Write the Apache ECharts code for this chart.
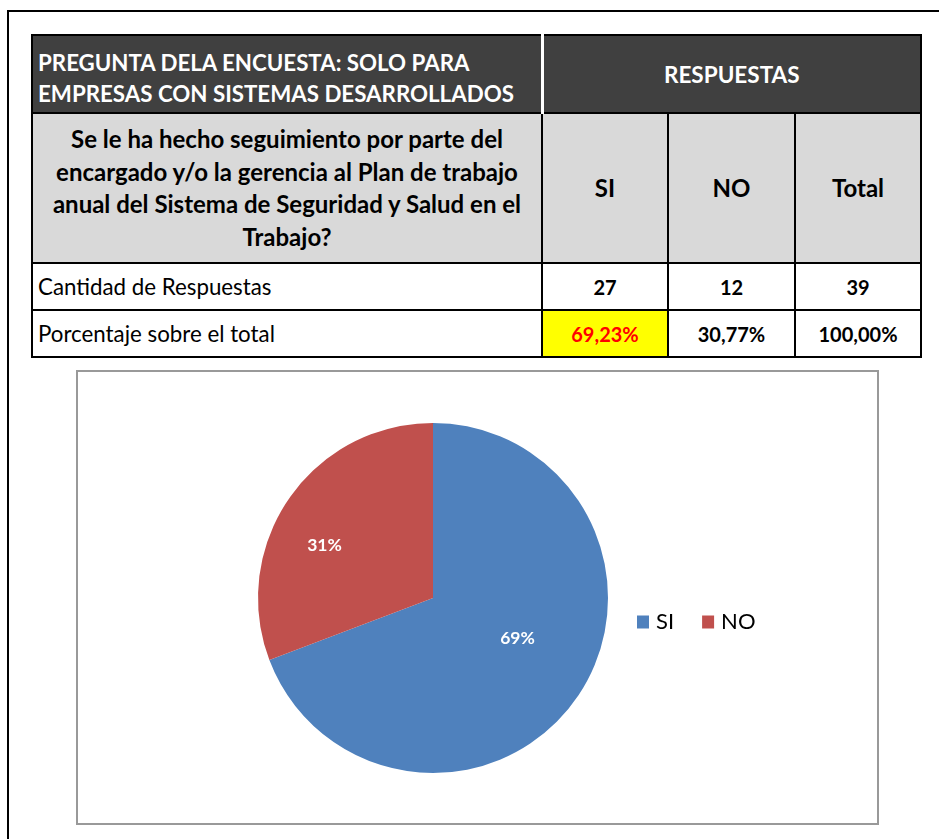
<!DOCTYPE html>
<html>
<head>
<meta charset="utf-8">
<script src="https://cdn.jsdelivr.net/npm/echarts@6/dist/echarts.min.js"></script>
<style>
  html, body { margin: 0; padding: 0; background: #fff; }
  body { width: 939px; height: 839px; position: relative; overflow: hidden; font-family: Lato, "Noto Sans", sans-serif; }
  #frame { position: absolute; left: 7px; top: 10px; width: 940px; height: 840px; border-left: 2px solid #000; border-top: 2px solid #000; }
  table { position: absolute; left: 31px; top: 34px; border-collapse: collapse; table-layout: fixed; }
  td { border: 2px solid #000; padding: 0; color: #000; }
  .head td { background: #404040; color: #fff; font-weight: bold; font-size: 22.3px; height: 76px; }
  .head td.q { text-align: left; padding-left: 5px; line-height: 31px; padding-top: 7px; height: 69px; }
  .head td.r { text-align: center; border-left: 3px solid #fff; font-size: 22.5px; }
  .sub td { background: #d9d9d9; font-weight: bold; font-size: 24px; text-align: center; height: 148px; line-height: 32.5px; }
  .sub td.q { font-size: 24px; }
  .row td { height: 45px; font-size: 20px; font-weight: bold; text-align: center; }
  .row td.lbl { text-align: left; padding-left: 5px; font-weight: normal; font-size: 22.3px; }
  .row td.hl { background: #ffff00; color: #ff0000; }
  #chart { position: absolute; left: 76px; top: 370px; width: 803px; height: 455px; border: 2px solid #999; box-sizing: border-box; }
</style>
</head>
<body>
<div id="frame"></div>
<table id="tbl">
  <colgroup><col style="width:510px"><col style="width:126px"><col style="width:127px"><col style="width:126px"></colgroup>
</table>
<div id="chart"></div>
<script>
var headerQuestion = ['PREGUNTA DELA ENCUESTA: SOLO PARA', 'EMPRESAS CON SISTEMAS DESARROLLADOS'];
var headerAnswers = 'RESPUESTAS';
var questionLines = ['Se le ha hecho seguimiento por parte del', 'encargado y/o la gerencia al Plan de trabajo', 'anual del Sistema de Seguridad y Salud en el', 'Trabajo?'];
var categories = ['SI', 'NO'];
var counts = [27, 12];
var total = 39;
var percentLabels = ['69,23%', '30,77%', '100,00%'];
var colors = ['#4f81bd', '#c0504d'];
// nudges so the inside labels sit where Excel put them
var labelOffsets = [[10, -11], [-34, -1]];

var tbl = document.getElementById('tbl');
var html = '';
html += '<tr class="head"><td class="q">' + headerQuestion.join('<br>') + '</td><td class="r" colspan="3">' + headerAnswers + '</td></tr>';
html += '<tr class="sub"><td class="q">' + questionLines.join('<br>') + '</td>';
categories.concat(['Total']).forEach(function (c) { html += '<td>' + c + '</td>'; });
html += '</tr>';
html += '<tr class="row"><td class="lbl">Cantidad de Respuestas</td>';
counts.concat([total]).forEach(function (v) { html += '<td>' + v + '</td>'; });
html += '</tr>';
html += '<tr class="row"><td class="lbl">Porcentaje sobre el total</td>';
percentLabels.forEach(function (p, i) { html += '<td' + (i === 0 ? ' class="hl"' : '') + '>' + p + '</td>'; });
html += '</tr>';
tbl.innerHTML += html;

var chart = echarts.init(document.getElementById('chart'));
chart.setOption({
    animation: false,
    color: colors,
    legend: {
        orient: 'horizontal',
        left: 559,
        top: 239,
        padding: 0,
        itemWidth: 12,
        itemHeight: 13,
        itemGap: 28,
        icon: 'rect',
        textStyle: { fontFamily: 'Lato', fontSize: 22, color: '#000', padding: [0, 0, 0, 2] },
        data: categories
    },
    series: [{
        type: 'pie',
        center: [355, 226],
        radius: [0, 175],
        startAngle: 90,
        clockwise: true,
        label: {
            show: true,
            position: 'inside',
            formatter: function (p) { return Math.round(p.percent) + '%'; },
            color: '#fff',
            fontWeight: 'bold',
            fontSize: 17.5,
            fontFamily: 'Lato'
        },
        labelLine: { show: false },
        itemStyle: { borderWidth: 0 },
        emphasis: { disabled: true },
        data: categories.map(function (c, i) {
            return { name: c, value: counts[i], label: { offset: labelOffsets[i] } };
        })
    }]
});
</script>
</body>
</html>
